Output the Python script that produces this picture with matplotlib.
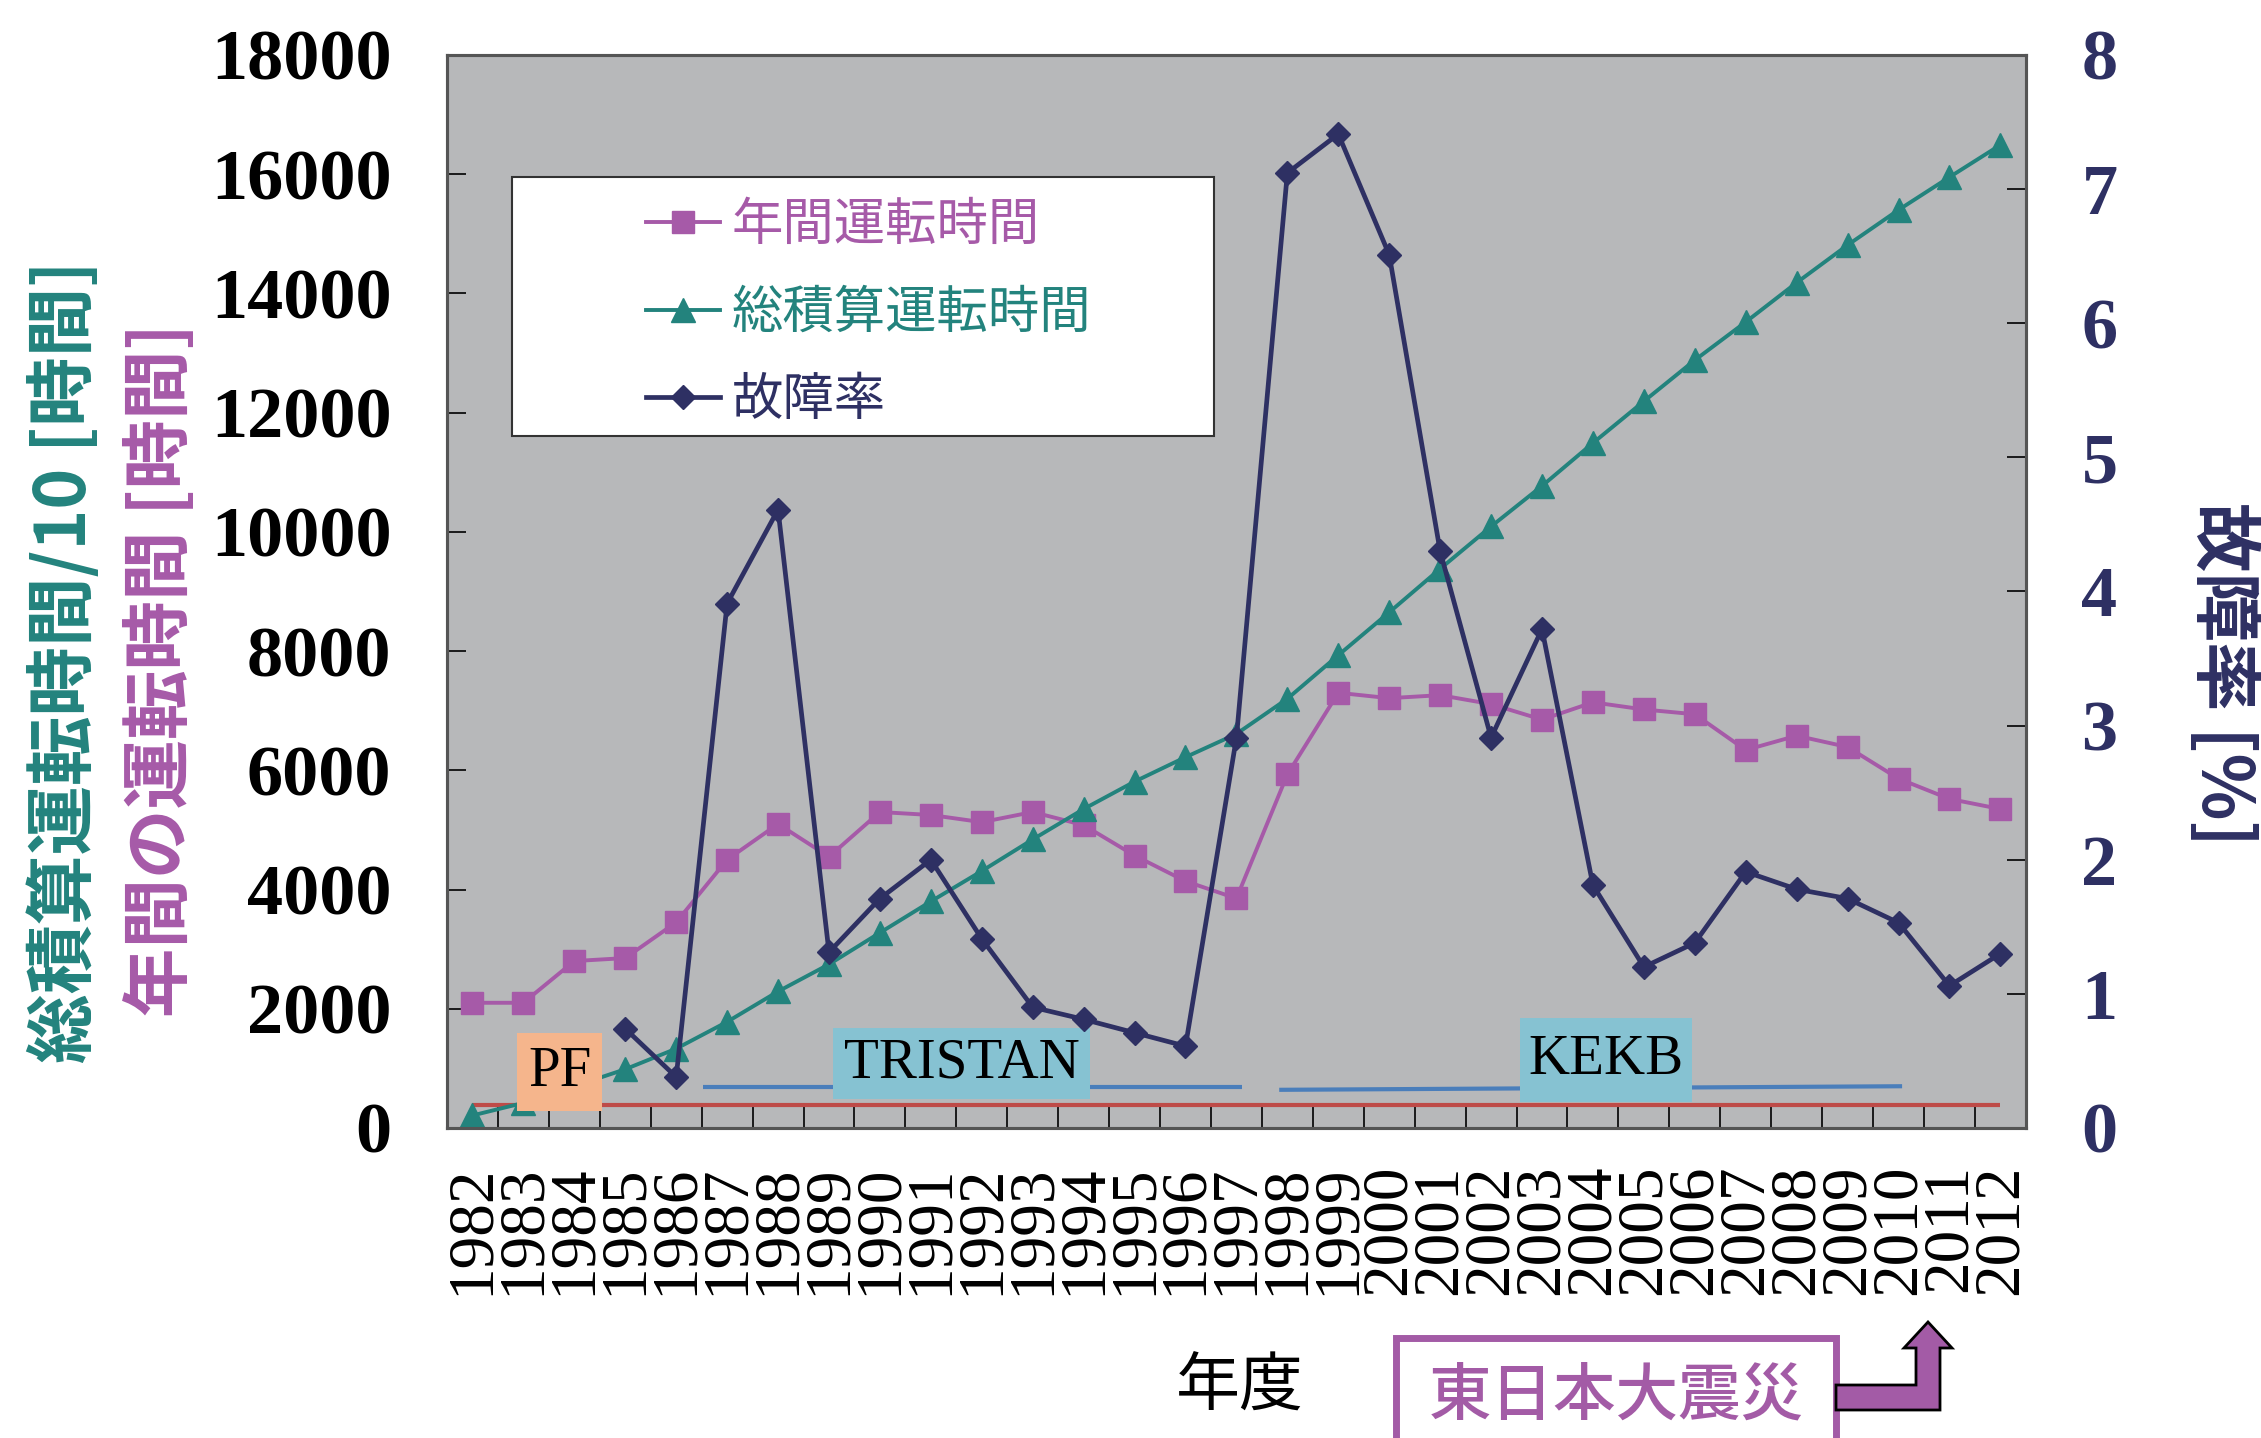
import matplotlib
matplotlib.use('Agg')
import matplotlib.pyplot as plt
from matplotlib.patches import Rectangle, Polygon
import numpy as np

plt.rcParams['font.family'] = ['Noto Sans CJK JP', 'DejaVu Sans']

# ---------------- data ----------------
years = list(range(1982, 2013))
annual_hours = [2100, 2100, 2800, 2850, 3450, 4500, 5100, 4550, 5300, 5250,
                5130, 5300, 5080, 4570, 4140, 3850, 5930, 7300, 7210, 7260,
                7110, 6850, 7140, 7020, 6940, 6340, 6580, 6390, 5860, 5520, 5350]
cumulative_hours_div10 = [210, 420, 700, 985, 1330, 1780, 2290, 2745, 3275, 3800,
                          4310, 4840, 5350, 5810, 6220, 6610, 7200, 7930, 8650, 9380,
                          10090, 10770, 11490, 12190, 12880, 13520, 14180, 14810,
                          15400, 15950, 16490]
failure_years = list(range(1985, 2013))
failure_rate = [0.74, 0.38, 3.91, 4.61, 1.31, 1.71, 2.00, 1.41, 0.90, 0.81,
                0.71, 0.61, 2.91, 7.12, 7.41, 6.51, 4.30, 2.91, 3.72, 1.81,
                1.20, 1.38, 1.91, 1.78, 1.71, 1.53, 1.06, 1.30]

# operation periods (x in years, y in left-axis units)
pf_period_x = [1982, 2012]
pf_period_y = [390, 390]
tristan_period_x = [1986.53, 1997.1]
tristan_period_y = [680, 680]
kekb_period_x = [1997.84, 2010.07]
kekb_period_y = [640, 700]

series_labels = ['年間運転時間', '総積算運転時間', '故障率']
xtick_labels = [str(y) for y in years]

# ---------------- style ----------------
PINK = '#A65AA8'
TEAL = '#23837D'
NAVY = '#2E3063'
BG = '#B7B8BA'
SERIF = 'Liberation Serif'
CJK = ['Noto Sans CJK JP', 'DejaVu Sans']

fig = plt.figure(figsize=(22.61, 14.38), dpi=100)
ax = fig.add_axes([0.1977, 0.2156, 0.6983, 0.7462])
ax.set_facecolor(BG)
ax.set_xlim(1981.5, 2012.5)
ax.set_ylim(0, 18000)
ax2 = ax.twinx()
ax2.set_ylim(0, 8)

for a in (ax, ax2):
    for s in a.spines.values():
        s.set_color('#555555')
        s.set_linewidth(2.2)

# period lines
ax.plot(pf_period_x, pf_period_y, color='#BE4B48', lw=3, zorder=2.5, solid_capstyle='butt')
ax.plot(tristan_period_x, tristan_period_y, color='#4A7EBB', lw=3, zorder=2.5, solid_capstyle='butt')
ax.plot(kekb_period_x, kekb_period_y, color='#4A7EBB', lw=3, zorder=2.5, solid_capstyle='butt')

# series
l1, = ax.plot(years, annual_hours, color=PINK, lw=2.8, marker='s', ms=16.5,
              mec=PINK, mfc=PINK, zorder=3, label=series_labels[0])
l2, = ax.plot(years, cumulative_hours_div10, color=TEAL, lw=2.8, marker='^', ms=17,
              mec=TEAL, mfc=TEAL, zorder=3, label=series_labels[1])
l3, = ax2.plot(failure_years, failure_rate, color=NAVY, lw=3.4, marker='D', ms=12.5,
               mec=NAVY, mfc=NAVY, zorder=3, label=series_labels[2])

# label boxes
box_specs = [
    ('PF', 1982.88, 290, 1.67, 1307, '#F5B58C'),
    ('TRISTAN', 1989.08, 484, 5.04, 1186, '#86C2D2'),
    ('KEKB', 2002.57, 436, 3.37, 1403, '#86C2D2'),
]
for txt, x0, y0, w, h, fc in box_specs:
    ax.add_patch(Rectangle((x0, y0), w, h, facecolor=fc, edgecolor='none', zorder=6))
    ax.text(x0 + w / 2, y0 + h / 2, txt, family=SERIF, fontsize=41, ha='center',
            va='center', zorder=7, color='black')

# ticks
ax.set_yticks(range(0, 18001, 2000))
ax.set_yticklabels([str(v) for v in range(0, 18001, 2000)], family=SERIF,
                   fontweight='bold', fontsize=52)
ax.tick_params(axis='y', direction='in', length=14, width=1.2, pad=40, colors='black')
ax2.set_yticks(range(0, 9))
ax2.set_yticklabels([str(v) for v in range(0, 9)], family=SERIF,
                    fontweight='bold', fontsize=52, color=NAVY)
ax2.tick_params(axis='y', direction='in', length=14, width=1.2, pad=40, color='black')

ax.set_xticks(years)
ax.set_xticklabels(xtick_labels, rotation=90, family=SERIF, fontsize=47)
ax.set_xticks(np.arange(1981.5, 2013, 1), minor=True)
ax.tick_params(axis='x', which='major', length=0, pad=26)
ax.tick_params(axis='x', which='minor', direction='in', length=16, width=1.2, color='black')

# legend
leg_rect = Rectangle((0.0411, 0.645), 0.4447, 0.2408, transform=ax2.transAxes,
                     facecolor='white', edgecolor='#333333', lw=1.5, zorder=10)
ax2.add_patch(leg_rect)
leg = ax2.legend([l1, l2, l3], series_labels, loc='upper left',
                 bbox_to_anchor=(0.126, 0.866), frameon=False,
                 prop={'family': CJK, 'size': 37}, handlelength=1.45,
                 handletextpad=0.22, labelspacing=0.66, borderaxespad=0,
                 borderpad=0, labelcolor=[PINK, TEAL, NAVY], numpoints=1)
leg.set_zorder(11)

# axis labels
fig.text(0.0287, 0.540, '総積算運転時間/10 [時間]', rotation=90, color=TEAL,
         fontsize=50, fontweight='bold', family=CJK, ha='center', va='center')
fig.text(0.0714, 0.534, '年間の運転時間 [時間]', rotation=90, color=PINK,
         fontsize=50, fontweight='bold', family=CJK, ha='center', va='center')
fig.text(0.983, 0.531, '故障率 [%]', rotation=270, color=NAVY,
         fontsize=50, fontweight='bold', family=CJK, ha='center', va='center')
fig.text(0.5485, 0.0353, '年度', fontsize=46, color='black', family=CJK,
         ha='center', va='center')

# earthquake box and arrow
W, H = 2261.0, 1438.0
fig.patches.append(Rectangle((1396 / W, -0.05), (1836 - 1396) / W, 0.05 + 1 - 1338 / H,
                             transform=fig.transFigure, facecolor='white',
                             edgecolor='#A35BA6', lw=5, zorder=5))
fig.text(1616 / W, 1 - 1397 / H, '東日本大震災', fontsize=45, color='#A35BA6',
         family=CJK, fontweight='medium', ha='center', va='center', zorder=6)
arrow_px = [(1836, 1385), (1916, 1385), (1916, 1348), (1904, 1348), (1928, 1322),
            (1952, 1348), (1940, 1348), (1940, 1410), (1836, 1410)]
fig.patches.append(Polygon([(x / W, 1 - y / H) for x, y in arrow_px], closed=True,
                           transform=fig.transFigure, facecolor='#A35BA6',
                           edgecolor='black', lw=2, zorder=6))

fig.savefig('out.png', dpi=100)
